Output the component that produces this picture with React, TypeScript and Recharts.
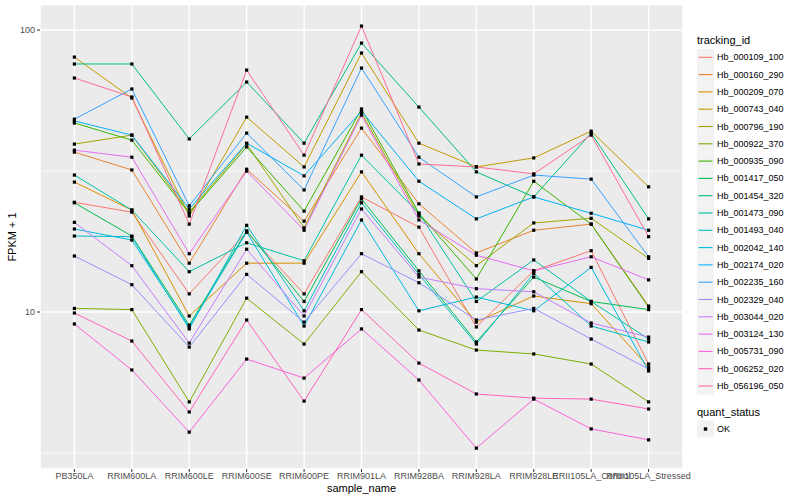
import React from 'react';
import { LineChart, Line, XAxis, YAxis, CartesianGrid } from 'recharts';

const samples = [
  'PB350LA', 'RRIM600LA', 'RRIM600LE', 'RRIM600SE', 'RRIM600PE', 'RRIM901LA',
  'RRIM928BA', 'RRIM928LA', 'RRIM928LE', 'RRII105LA_Control', 'RRII105LA_Stressed',
];

// FPKM + 1 per sample, one array per gene
const hb000109_100 = [24.5, 22.6, 11.6, 19.2, 11.6, 25.6, 20.0, 8.85, 14.0, 16.5, 6.54];
const hb000160_290 = [36.9, 31.9, 14.9, 32.1, 21.0, 44.9, 24.2, 16.2, 19.5, 20.5, 10.5];
const hb000209_070 = [28.9, 23.0, 9.68, 14.9, 14.9, 31.4, 16.1, 9.21, 11.4, 10.7, 6.38];
const hb000743_040 = [80.2, 57.4, 21.9, 49.1, 32.7, 82.9, 39.7, 32.7, 35.2, 43.8, 27.8];
const hb000796_190 = [39.4, 42.4, 22.6, 39.4, 19.9, 50.8, 21.9, 14.6, 20.7, 21.5, 15.5];
const hb000922_370 = [10.3, 10.2, 4.80, 11.2, 7.70, 13.9, 8.63, 7.33, 7.10, 6.54, 4.80];
const hb000935_090 = [46.8, 40.7, 22.4, 38.5, 22.8, 52.5, 22.4, 13.1, 29.1, 20.5, 10.4];
const hb001417_050 = [24.4, 18.6, 8.99, 19.4, 10.9, 25.2, 14.0, 7.83, 13.3, 10.9, 10.2];
const hb001454_320 = [75.8, 75.8, 41.1, 65.4, 39.7, 89.9, 53.3, 31.4, 25.6, 43.1, 21.4];
const hb001473_090 = [30.6, 23.0, 13.9, 17.6, 15.2, 36.0, 22.4, 10.9, 15.3, 10.9, 8.02];
const hb001493_040 = [18.6, 18.5, 8.71, 20.3, 10.1, 24.4, 13.6, 7.70, 13.7, 8.92, 7.83];
const hb002042_140 = [19.7, 18.0, 8.85, 19.2, 8.92, 21.2, 10.1, 11.3, 10.1, 14.4, 6.18];
const hb002174_020 = [47.6, 42.4, 23.2, 39.7, 30.4, 51.6, 29.1, 21.4, 25.6, 22.4, 19.5];
const hb002235_160 = [48.3, 61.8, 23.8, 43.1, 27.1, 73.3, 35.4, 25.6, 30.6, 29.6, 15.7];
const hb002329_040 = [15.8, 12.5, 7.51, 13.6, 9.21, 16.1, 12.7, 9.37, 10.3, 8.02, 6.28];
const hb003044_020 = [20.8, 14.6, 7.76, 16.7, 9.68, 23.2, 13.3, 12.1, 11.8, 9.14, 8.15];
const hb003124_130 = [37.5, 35.4, 16.1, 31.6, 19.5, 49.9, 21.2, 15.9, 14.0, 15.7, 13.0];
const hb005731_090 = [9.07, 6.23, 3.75, 6.81, 5.83, 8.71, 5.74, 3.29, 4.91, 3.85, 3.52];
const hb006252_020 = [9.92, 7.89, 4.42, 9.37, 4.83, 10.2, 6.59, 5.12, 4.95, 4.91, 4.53];
const hb056196_050 = [67.6, 57.9, 20.5, 72.1, 36.0, 103.3, 33.5, 32.7, 30.9, 42.4, 18.5];

const trackingIds = [
  'Hb_000109_100', 'Hb_000160_290', 'Hb_000209_070', 'Hb_000743_040', 'Hb_000796_190',
  'Hb_000922_370', 'Hb_000935_090', 'Hb_001417_050', 'Hb_001454_320', 'Hb_001473_090',
  'Hb_001493_040', 'Hb_002042_140', 'Hb_002174_020', 'Hb_002235_160', 'Hb_002329_040',
  'Hb_003044_020', 'Hb_003124_130', 'Hb_005731_090', 'Hb_006252_020', 'Hb_056196_050',
];

const seriesValues = [
  hb000109_100, hb000160_290, hb000209_070, hb000743_040, hb000796_190,
  hb000922_370, hb000935_090, hb001417_050, hb001454_320, hb001473_090,
  hb001493_040, hb002042_140, hb002174_020, hb002235_160, hb002329_040,
  hb003044_020, hb003124_130, hb005731_090, hb006252_020, hb056196_050,
];

// ggplot hue palette, 20 levels
const palette = [
  '#F8766D', '#EA8331', '#D89000', '#C09B00', '#A3A500', '#7CAE00', '#39B600', '#00BB4E', '#00BF7D', '#00C1A3',
  '#00BFC4', '#00BAE0', '#00B0F6', '#35A2FF', '#9590FF', '#C77CFF', '#E76BF3', '#FA62DB', '#FF62BC', '#FF6C91',
];

const yMajor = [10, 100];
// grid breaks on the log axis: minor, major, minor, major
const yBreaks = [3.1623, 10, 31.623, 100];
const yDomain = [2.775, 122.7];

const quantStatus = ['OK'];

const rows = samples.map((sample, i) => {
  const row: Record<string, string | number> = { sample };
  trackingIds.forEach((id, k) => {
    row[id] = seriesValues[k][i];
  });
  return row;
});

const FONT = '"Liberation Sans", Arial, Helvetica, sans-serif';

const squareDot = (id: string) => (p: any) => (
  <rect key={`${id}-${p.index}`} x={p.cx - 1.6} y={p.cy - 1.6} width={3.2} height={3.2} fill="#000" />
);

const YTick = (p: any) => {
  const v = p.payload?.value;
  if (!yMajor.includes(v)) return <g />;
  return (
    <g>
      <line x1={p.x + 2} x2={p.x + 5} y1={p.y} y2={p.y} stroke="#333333" strokeWidth={1} />
      <text x={p.x} y={p.y} fontSize={9} fontFamily={FONT} fill="#4D4D4D" textAnchor="end" dominantBaseline="central">{v}</text>
    </g>
  );
};

const gridRow = (p: any) => {
  const i = typeof p.index === 'number' ? p.index : 1;
  const minor = i % 2 === 0;
  return (
    <line
      key={`row-${i}`}
      x1={p.x1}
      x2={p.x2}
      y1={p.y1}
      y2={p.y2}
      stroke="#fff"
      strokeWidth={minor ? 0.7 : 1.4}
    />
  );
};

function LegendPanel() {
  const top = 57.3;
  const step = 17.3;
  const okY = 429;
  return (
    <svg width={800} height={500} style={{ position: 'absolute', left: 0, top: 0, pointerEvents: 'none' }}>
      <text x={697} y={40} fontSize={11} fontFamily={FONT} dominantBaseline="central" fill="#000">tracking_id</text>
      {trackingIds.map((id, k) => {
        const yc = top + k * step;
        return (
          <g key={id}>
            <rect x={697} y={yc - 8.5} width={17} height={17} fill="#F2F2F2" />
            <line x1={698.5} x2={712.5} y1={yc} y2={yc} stroke={palette[k]} strokeWidth={1.1} />
            <text x={717} y={yc} fontSize={9} fontFamily={FONT} dominantBaseline="central" fill="#000">{id}</text>
          </g>
        );
      })}
      <text x={697} y={412} fontSize={11} fontFamily={FONT} dominantBaseline="central" fill="#000">quant_status</text>
      {quantStatus.map((s) => (
        <g key={s}>
          <rect x={697} y={okY - 8.5} width={17} height={17} fill="#F2F2F2" />
          <rect x={703.8} y={okY - 1.7} width={3.4} height={3.4} fill="#000" />
          <text x={717} y={okY} fontSize={9} fontFamily={FONT} dominantBaseline="central" fill="#000">{s}</text>
        </g>
      ))}
    </svg>
  );
}

export default function App() {
  return (
    <div style={{ position: 'absolute', left: 0, top: 0, width: 800, height: 500, background: '#fff', fontFamily: FONT }}>
      <LineChart width={800} height={500} data={rows} margin={{ top: 5, right: 117, bottom: 0, left: 0 }}>
        <CartesianGrid fill="#EBEBEB" stroke="#fff" strokeWidth={1.4} horizontal={gridRow} />
        <XAxis
          dataKey="sample"
          interval={0}
          height={31}
          padding={{ left: 34.4, right: 34.4 }}
          axisLine={false}
          tickSize={3}
          tickMargin={1}
          tickLine={{ stroke: '#333333' }}
          tick={{ fontSize: 9, fill: '#4D4D4D', fontFamily: FONT }}
          label={{
            content: (props: any) => {
              const vb = props.viewBox;
              return (
                <text x={vb.x + vb.width / 2} y={488} fontSize={11} fontFamily={FONT} textAnchor="middle" dominantBaseline="central" fill="#000">
                  sample_name
                </text>
              );
            },
          }}
        />
        <YAxis
          scale="log"
          domain={yDomain}
          ticks={yBreaks}
          interval={0}
          allowDataOverflow
          width={40}
          axisLine={false}
          tickSize={3}
          tickMargin={2}
          tickLine={false}
          tick={YTick}
          label={{
            content: (props: any) => {
              const vb = props.viewBox;
              const cy = vb.y + vb.height / 2;
              return (
                <text x={12} y={cy} fontSize={11} fontFamily={FONT} textAnchor="middle" dominantBaseline="central" fill="#000" transform={`rotate(-90 12 ${cy})`}>
                  FPKM + 1
                </text>
              );
            },
          }}
        />
        {trackingIds.map((id, k) => (
          <Line
            key={id}
            type="linear"
            dataKey={id}
            stroke={palette[k]}
            strokeWidth={1}
            dot={false}
            activeDot={false}
            isAnimationActive={false}
            legendType="none"
          />
        ))}
        {trackingIds.map((id) => (
          <Line
            key={`${id}-pts`}
            type="linear"
            dataKey={id}
            stroke="none"
            dot={squareDot(id)}
            activeDot={false}
            isAnimationActive={false}
            legendType="none"
          />
        ))}
      </LineChart>
      <LegendPanel />
    </div>
  );
}
